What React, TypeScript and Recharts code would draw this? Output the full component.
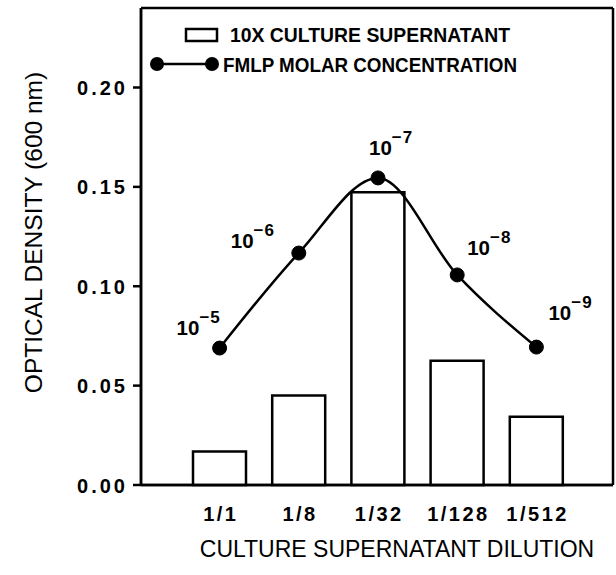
import React from 'react';
import { ComposedChart, Bar, Line, XAxis, YAxis, CartesianGrid, Legend, LabelList } from 'recharts';

const dilutions = ['1/1', '1/8', '1/32', '1/128', '1/512'];
const supernatantOD = [0.0168, 0.045, 0.1473, 0.0625, 0.0343];
const fmlpOD = [0.0689, 0.1167, 0.1545, 0.1057, 0.0694];
const fmlpExponent = ['\u22125', '\u22126', '\u22127', '\u22128', '\u22129'];
const yTicks = [0, 0.05, 0.1, 0.15, 0.2];

const data = dilutions.map((d, i) => ({
  dilution: d,
  supernatant: supernatantOD[i],
  fmlp: fmlpOD[i],
  exponent: fmlpExponent[i],
}));

// where each 10^x label sits relative to its dot (left edge, baseline)
const labelShift = [
  [-43, -13],
  [-68, -5],
  [-9, -23],
  [10, -20],
  [12, -27],
];

const FONT = '"Liberation Sans", Arial, sans-serif';

const XTick = (props: any) => {
  const { x, y, payload } = props;
  return (
    <text x={x + 1.25} y={y + 34} textAnchor="middle" fontSize={20} fontWeight="bold" letterSpacing={2.5} fill="#000">
      {payload.value}
    </text>
  );
};

const YTick = (props: any) => {
  const { x, y, payload } = props;
  return (
    <text x={x + 3} y={y + 7.5} textAnchor="end" fontSize={20} fontWeight="bold" letterSpacing={3} fill="#000">
      {Number(payload.value).toFixed(2)}
    </text>
  );
};

const ExpLabel = (props: any) => {
  const { x, y, index, value } = props;
  const [dx, dy] = labelShift[index] || [0, -15];
  return (
    <text x={x + dx} y={y + dy} fontSize={20.5} fontWeight="bold" fill="#000">
      <tspan>10</tspan>
      <tspan dy={-12} fontSize={17} letterSpacing={1}>{value}</tspan>
    </text>
  );
};

const LegendBox = () => (
  <svg width={616} height={90} style={{ display: 'block' }}>
    <rect x={186} y={29} width={31} height={12} fill="none" stroke="#000" strokeWidth={2.5} />
    <text x={230} y={42} fontSize={20} fontWeight="bold" fill="#000" textLength={280} lengthAdjust="spacingAndGlyphs">
      10X CULTURE SUPERNATANT
    </text>
    <line x1={157} y1={64} x2={212} y2={64} stroke="#000" strokeWidth={2.5} />
    <circle cx={157} cy={64} r={7} fill="#000" />
    <circle cx={212} cy={64} r={7} fill="#000" />
    <text x={223} y={72} fontSize={20} fontWeight="bold" fill="#000" textLength={294} lengthAdjust="spacingAndGlyphs">
      FMLP MOLAR CONCENTRATION
    </text>
  </svg>
);

const App: React.FC = () => {
  return (
    <div style={{ position: 'absolute', left: 0, top: 0, background: '#fff' }}>
      <ComposedChart
        width={616}
        height={575}
        data={data}
        margin={{ top: 8, right: 3, bottom: 18, left: 41 }}
        style={{ fontFamily: FONT }}
      >
        <CartesianGrid
          stroke="#000"
          strokeWidth={2.5}
          horizontalCoordinatesGenerator={({ offset }: any) => [offset.top, offset.top + offset.height]}
          verticalCoordinatesGenerator={({ offset }: any) => [offset.left, offset.left + offset.width]}
        />
        <XAxis
          dataKey="dilution"
          height={72}
          interval={0}
          padding={{ left: 39, right: 37 }}
          tickSize={0}
          tickLine={false}
          axisLine={{ stroke: '#000', strokeWidth: 2.5 }}
          tick={<XTick />}
          label={{
            value: 'CULTURE SUPERNATANT DILUTION',
            position: 'insideBottom',
            offset: 0,
            dx: 20,
            fill: '#000',
            fontSize: 23,
          }}
        />
        <YAxis
          width={100}
          domain={[0, 0.24]}
          ticks={yTicks}
          tickSize={8}
          tickMargin={8}
          tickLine={{ stroke: '#000', strokeWidth: 2.5 }}
          axisLine={{ stroke: '#000', strokeWidth: 2.5 }}
          tick={<YTick />}
          label={{
            value: 'OPTICAL DENSITY (600 nm)',
            angle: -90,
            position: 'center',
            dx: -58,
            dy: -14,
            fill: '#000',
            fontSize: 24.5,
          }}
        />
        <Legend
          layout="vertical"
          align="center"
          verticalAlign="middle"
          wrapperStyle={{ left: 0, top: 0, width: 616, height: 90 }}
          content={() => <LegendBox />}
        />
        <Bar
          dataKey="supernatant"
          name="10X CULTURE SUPERNATANT"
          barSize={53}
          fill="#fff"
          stroke="#000"
          strokeWidth={2.5}
          isAnimationActive={false}
        />
        <Line
          type="monotone"
          dataKey="fmlp"
          name="FMLP MOLAR CONCENTRATION"
          stroke="#000"
          strokeWidth={2.5}
          dot={{ r: 7, fill: '#000', stroke: '#000', strokeWidth: 1 }}
          activeDot={false}
          isAnimationActive={false}
        >
          <LabelList dataKey="exponent" content={<ExpLabel />} />
        </Line>
      </ComposedChart>
    </div>
  );
};

export default App;
